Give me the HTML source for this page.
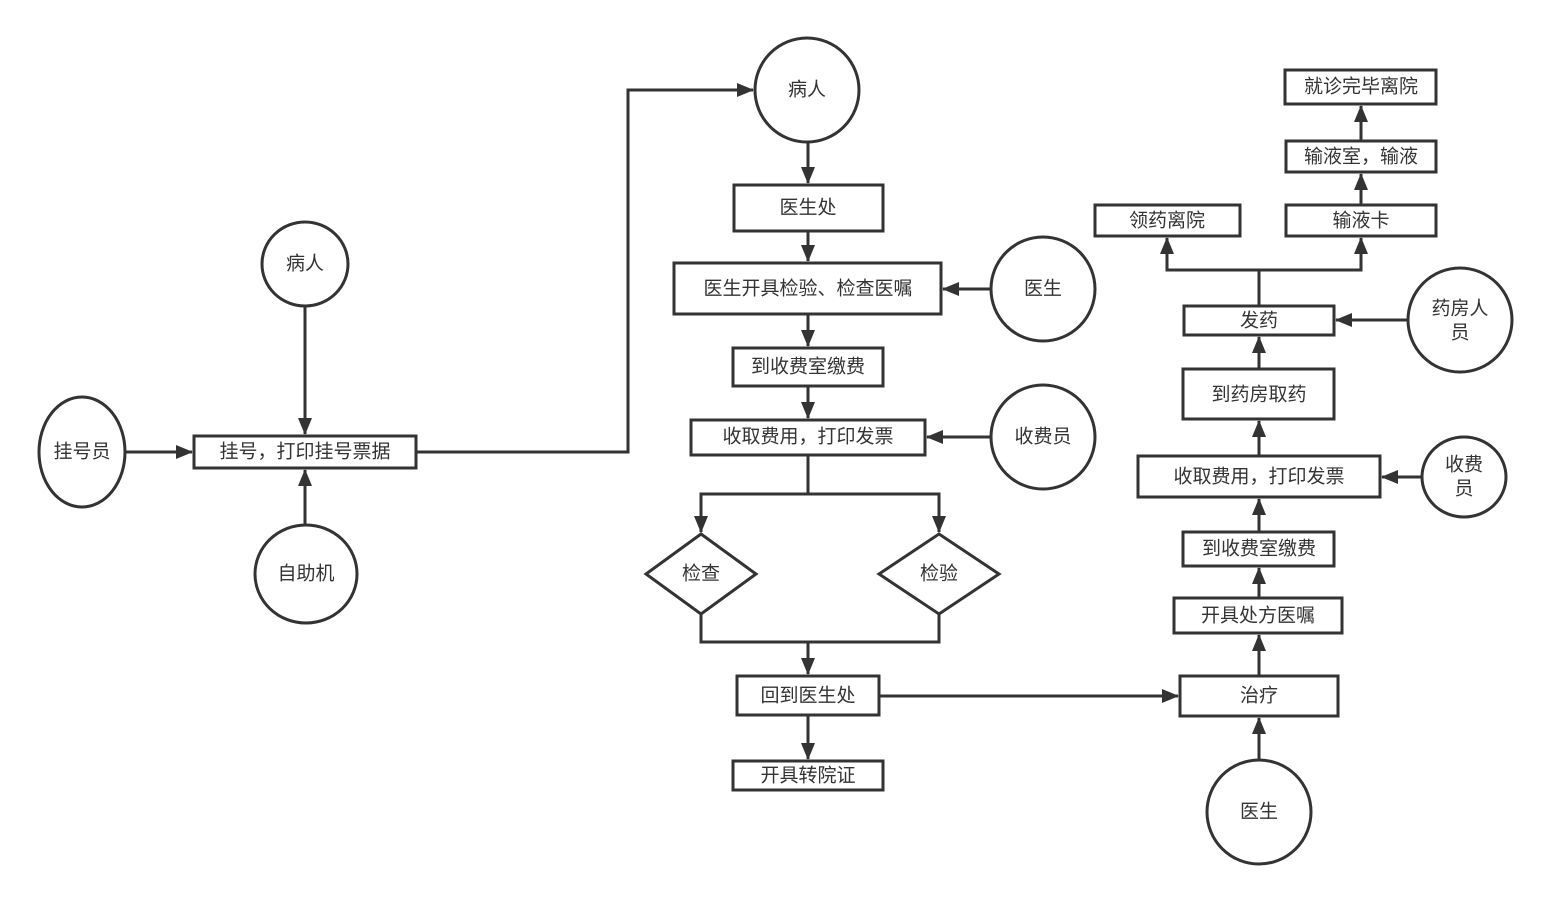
<!DOCTYPE html>
<html><head><meta charset="utf-8"><style>
html,body{margin:0;padding:0;background:#fff;}
svg{display:block;}
text{font-family:"Liberation Sans","Noto Sans CJK SC",sans-serif;font-size:19px;fill:#333;text-anchor:middle;dominant-baseline:central;}
.s{fill:#fff;stroke:#333;stroke-width:3;}
.l{fill:none;stroke:#333;stroke-width:3;}
</style></head><body>
<svg width="1550" height="901" viewBox="0 0 1550 901">
<defs>
<marker id="a" markerUnits="userSpaceOnUse" markerWidth="18" markerHeight="14" refX="16" refY="7" orient="auto">
<path d="M0,0 L17,7 L0,14 Z" fill="#333"/>
</marker>
</defs>
<g class="l" marker-end="url(#a)">
<path d="M305,306 V434"/>
<path d="M125,452 H192"/>
<path d="M305,524 V470"/>
<path d="M416,452 H628 V90 H753"/>
<path d="M808,142 V183"/>
<path d="M808,231 V261"/>
<path d="M990,289 H943"/>
<path d="M808,314 V346"/>
<path d="M808,386 V418"/>
<path d="M990,437 H927"/>
<path d="M808,455 V494 H701 V532"/>
<path d="M808,494 H939 V532"/>
<path d="M808,642 V674"/>
<path d="M808,715 V759"/>
<path d="M879,696 H1178"/>
<path d="M1259,761 V718"/>
<path d="M1259,676 V635"/>
<path d="M1259,598 V568"/>
<path d="M1259,532 V499"/>
<path d="M1422,477 H1382"/>
<path d="M1259,456 V421"/>
<path d="M1259,369 V337"/>
<path d="M1408,320 H1336"/>
<path d="M1259,306 V270 H1167 V238"/>
<path d="M1259,270 H1361 V238"/>
<path d="M1361,205 V174"/>
<path d="M1361,141 V106"/>
</g>
<path class="l" d="M701,614 V642 H939 V614"/>
<ellipse class="s" cx="82" cy="452" rx="43" ry="55"/><text x="82" y="452">挂号员</text>
<ellipse class="s" cx="305" cy="264" rx="43" ry="42"/><text x="305" y="264">病人</text>
<ellipse class="s" cx="306" cy="574" rx="51" ry="49"/><text x="306" y="574">自助机</text>
<rect class="s" x="194" y="436" width="222" height="32"/><text x="305" y="452">挂号，打印挂号票据</text>

<circle class="s" cx="807" cy="90" r="52"/><text x="807" y="90">病人</text>
<rect class="s" x="734" y="185" width="149" height="46"/><text x="808" y="208">医生处</text>
<rect class="s" x="674" y="263" width="267" height="51"/><text x="808" y="289">医生开具检验、检查医嘱</text>
<circle class="s" cx="1043" cy="289" r="52"/><text x="1043" y="289">医生</text>
<rect class="s" x="733" y="348" width="150" height="38"/><text x="808" y="367">到收费室缴费</text>
<rect class="s" x="691" y="420" width="234" height="35"/><text x="808" y="437">收取费用，打印发票</text>
<circle class="s" cx="1043" cy="437" r="52"/><text x="1043" y="437">收费员</text>
<polygon class="s" points="701,534 756,574 701,614 646,574"/><text x="701" y="574">检查</text>
<polygon class="s" points="939,534 999,574 939,614 879,574"/><text x="939" y="574">检验</text>
<rect class="s" x="737" y="676" width="142" height="39"/><text x="808" y="696">回到医生处</text>
<rect class="s" x="733" y="761" width="150" height="29"/><text x="808" y="776">开具转院证</text>

<rect class="s" x="1180" y="676" width="158" height="40"/><text x="1259" y="696">治疗</text>
<circle class="s" cx="1259" cy="812" r="52"/><text x="1259" y="812">医生</text>
<rect class="s" x="1174" y="598" width="168" height="35"/><text x="1258" y="616">开具处方医嘱</text>
<rect class="s" x="1183" y="532" width="151" height="34"/><text x="1259" y="549">到收费室缴费</text>
<rect class="s" x="1138" y="456" width="242" height="41"/><text x="1259" y="477">收取费用，打印发票</text>
<ellipse class="s" cx="1464" cy="477" rx="42" ry="40"/><text x="1464" y="465">收费</text><text x="1464" y="489">员</text>
<rect class="s" x="1183" y="369" width="151" height="50"/><text x="1259" y="395">到药房取药</text>
<rect class="s" x="1184" y="306" width="150" height="29"/><text x="1259" y="321">发药</text>
<circle class="s" cx="1460" cy="320" r="52"/><text x="1460" y="309">药房人</text><text x="1460" y="333">员</text>
<rect class="s" x="1095" y="205" width="145" height="31"/><text x="1167" y="221">领药离院</text>
<rect class="s" x="1286" y="205" width="150" height="31"/><text x="1361" y="221">输液卡</text>
<rect class="s" x="1286" y="141" width="150" height="31"/><text x="1361" y="157">输液室，输液</text>
<rect class="s" x="1285" y="70" width="151" height="34"/><text x="1361" y="87">就诊完毕离院</text>
</svg>
</body></html>
